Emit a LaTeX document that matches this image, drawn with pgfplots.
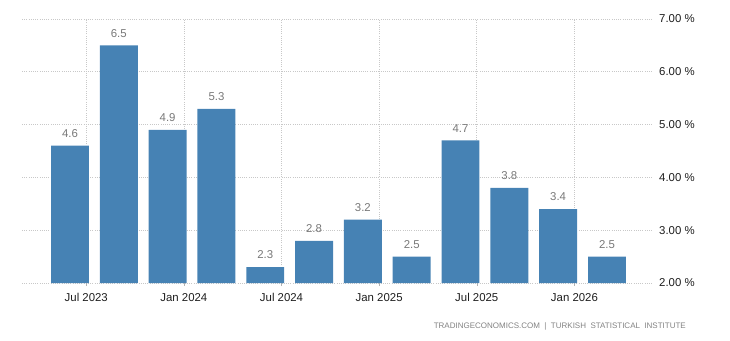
\documentclass[border=0pt]{standalone}
\usepackage{pgfplots}
\pgfplotsset{compat=1.18}
\usepackage{fontspec}
\setmainfont{Liberation Sans}
\definecolor{barblue}{RGB}{70,130,180}
\definecolor{gridgray}{RGB}{200,200,200}
\definecolor{valgray}{RGB}{120,120,120}
\definecolor{ticktext}{RGB}{30,30,30}
\definecolor{footgray}{RGB}{130,130,130}
\begin{document}
\begin{tikzpicture}
\useasboundingbox (0,0) rectangle (730pt,340pt);
\begin{axis}[
  at={(22pt,57pt)}, anchor=south west,
  scale only axis, width=631pt, height=264pt,
  xmin=-2.95, xmax=35.83, ymin=2, ymax=7,
  axis line style={draw=none},
  ybar, bar width=2.33,
  xtick={1,7,13,19,25,31},
  xticklabels={Jul 2023,Jan 2024,Jul 2024,Jan 2025,Jul 2025,Jan 2026},
  ytick={2,3,4,5,6,7},
  yticklabel pos=right,
  yticklabel={\pgfmathprintnumber[fixed,fixed zerofill,precision=2,assume math mode=true]{\tick}~\%},
  yticklabel style={anchor=west, inner sep=0pt, xshift=3pt, font=\fontsize{11.4pt}{13pt}\selectfont, text=ticktext},
  xticklabel style={anchor=base, inner sep=0pt, yshift=-15.7pt, font=\fontsize{11.4pt}{13pt}\selectfont, text=ticktext},
  xtick style={draw=gray!60, thin},
  ytick style={draw=none},
  major tick length=3pt,
  tick align=outside,
  xtick pos=bottom,
  grid=major,
  major grid style={draw=gridgray, line width=0.8pt, dash pattern=on 1pt off 1.2pt},
  nodes near coords={\pgfmathprintnumber[fixed,fixed zerofill,precision=1,assume math mode=true]{\pgfplotspointmeta}},
  nodes near coords style={anchor=south, inner sep=0pt, yshift=8pt, font=\fontsize{11.4pt}{13pt}\selectfont, text=valgray},
]
\addplot[fill=barblue, draw=none] coordinates {
(0,4.6) (3,6.5) (6,4.9) (9,5.3) (12,2.3) (15,2.8) (18,3.2) (21,2.5) (24,4.7) (27,3.8) (30,3.4) (33,2.5)
};
\end{axis}
\node[anchor=base east, inner sep=0pt, font=\fontsize{8pt}{9pt}\selectfont, text=footgray] at (686pt,11.7pt) {TRADINGECONOMICS.COM\ \ |\ \ TURKISH\ \ STATISTICAL\ \ INSTITUTE};
\end{tikzpicture}
\end{document}
